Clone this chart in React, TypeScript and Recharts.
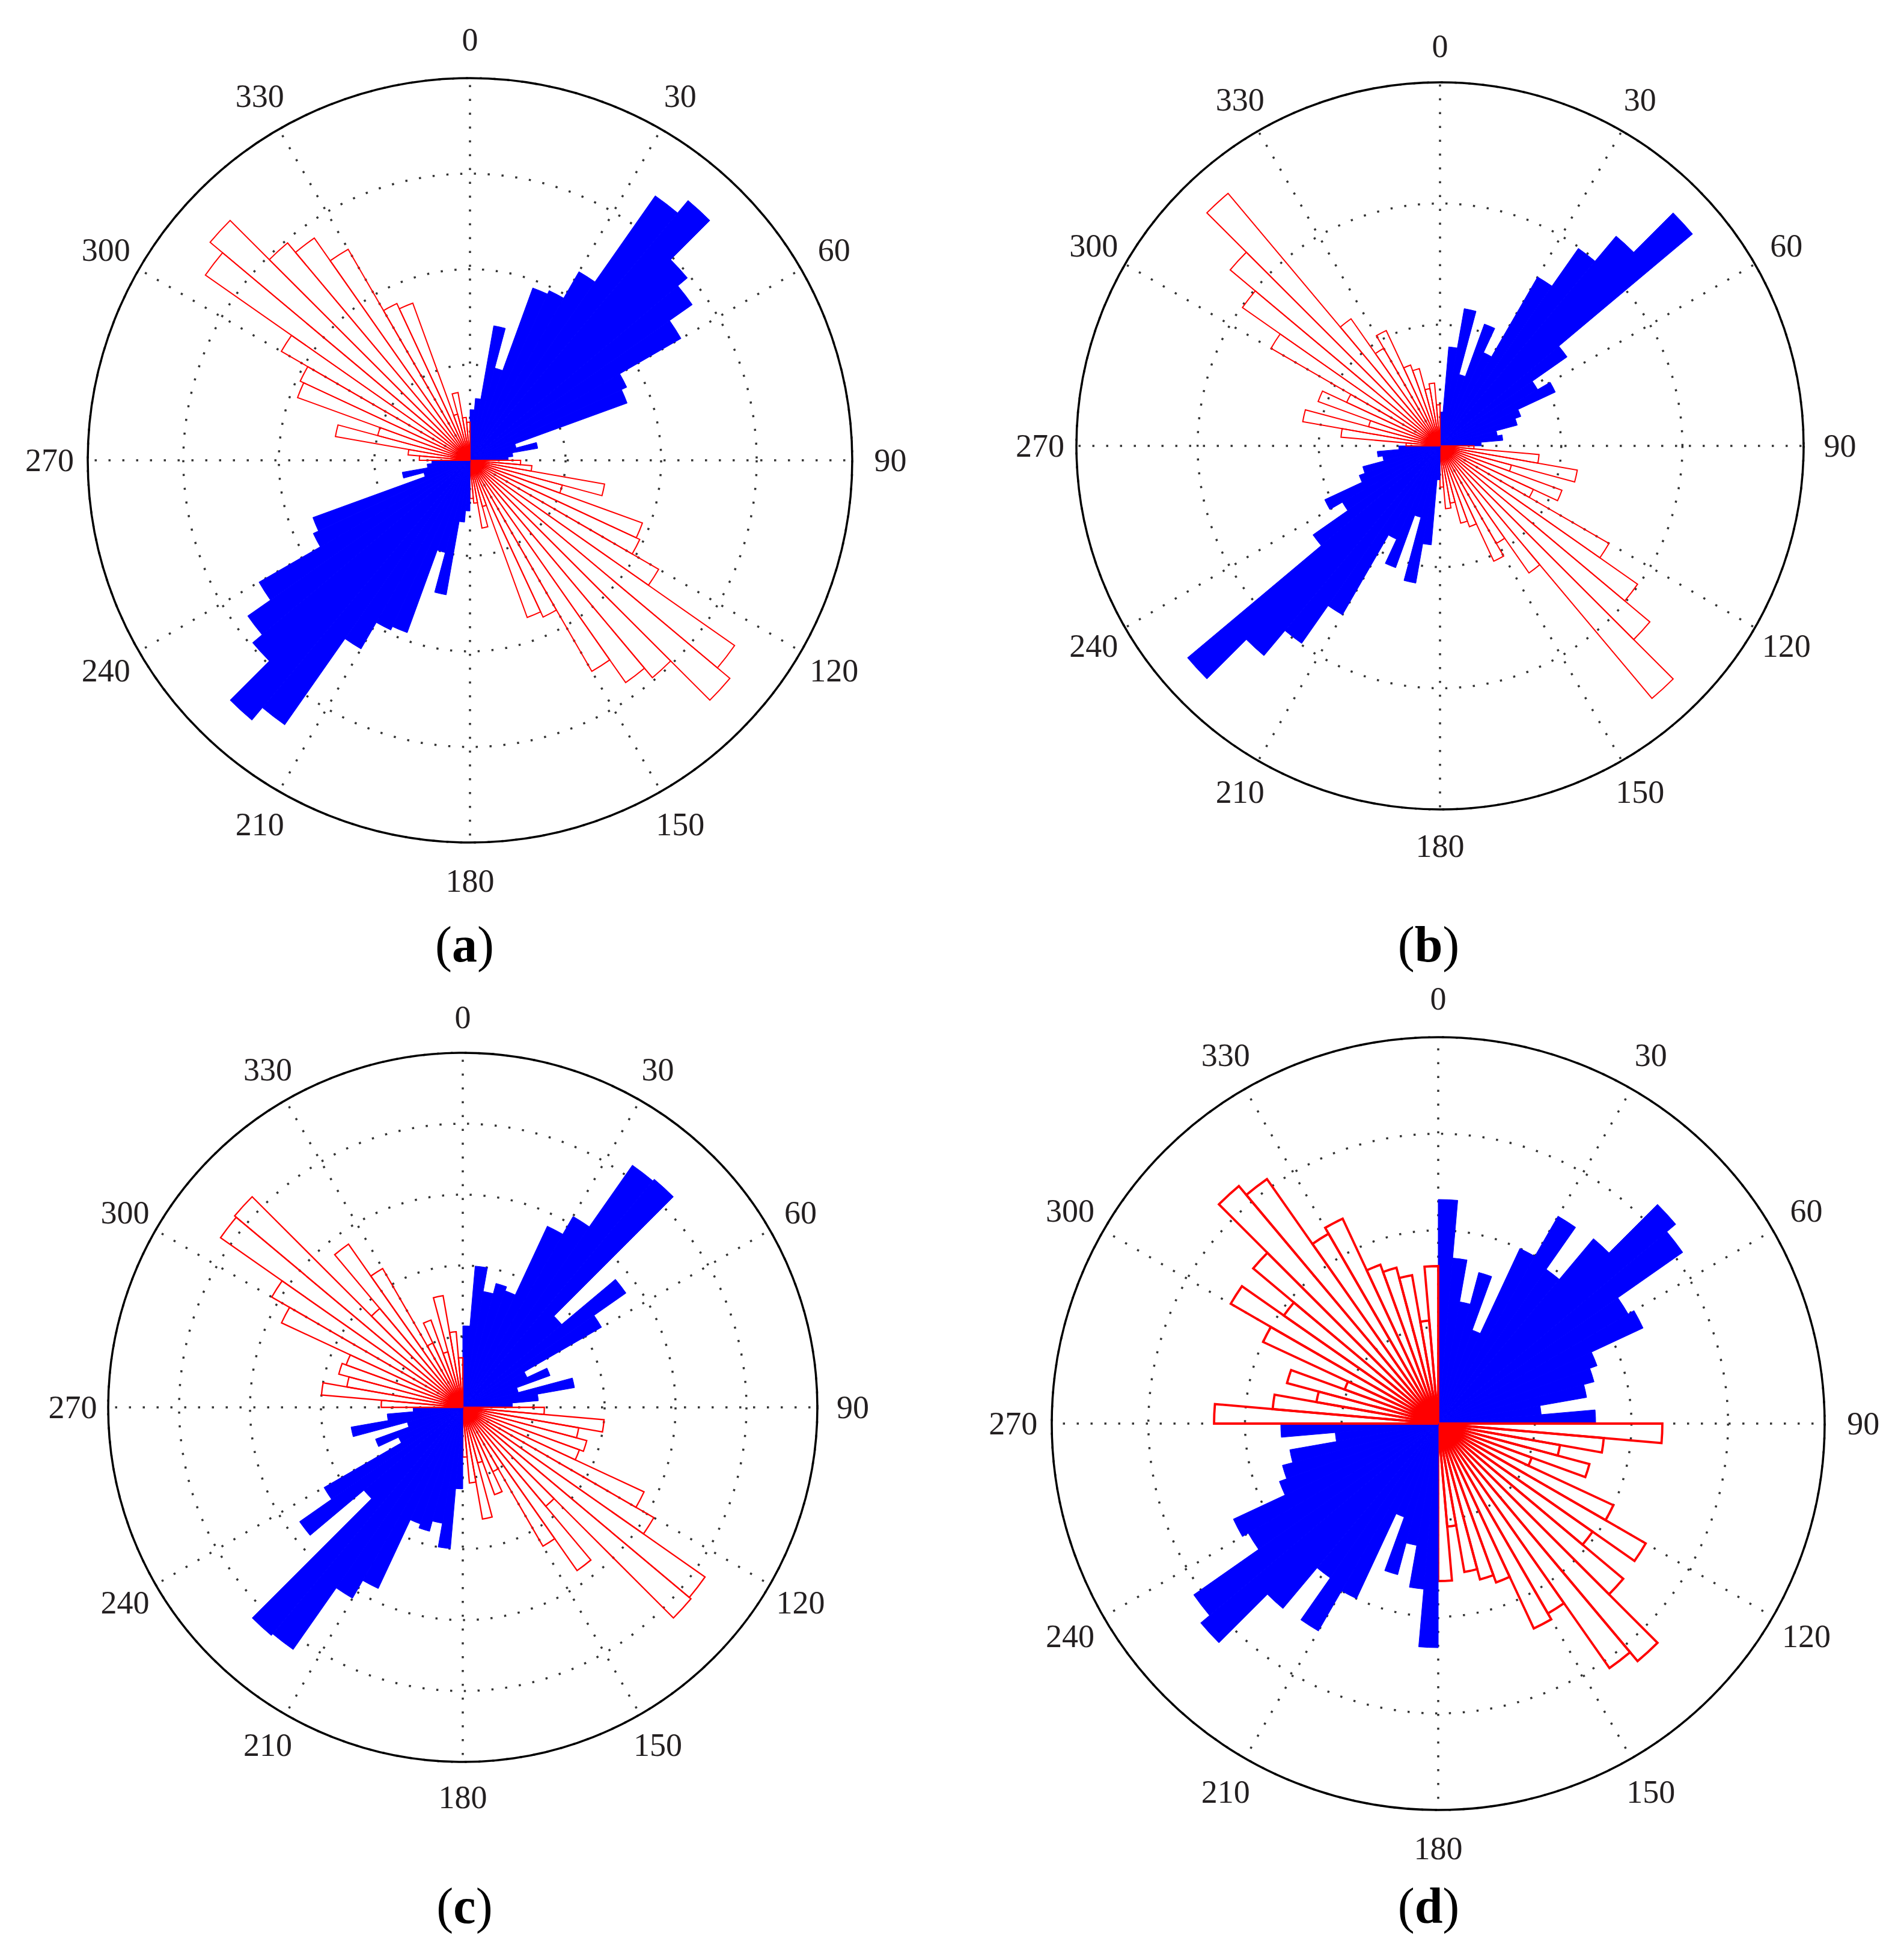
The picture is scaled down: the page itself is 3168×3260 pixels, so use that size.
import React from 'react';
import {
  RadialBarChart,
  RadialBar,
  RadarChart,
  Radar,
  PolarAngleAxis,
  PolarRadiusAxis,
  PolarGrid,
  Cell,
} from 'recharts';

// 5-degree bins, compass degrees (start of bin)
const binLabels = [
  '0', '5', '10', '15', '20', '25', '30', '35', '40', '45', '50', '55', '60', '65', '70', '75', '80', '85',
  '90', '95', '100', '105', '110', '115', '120', '125', '130', '135', '140', '145', '150', '155', '160', '165', '170', '175',
  '180', '185', '190', '195', '200', '205', '210', '215', '220', '225', '230', '235', '240', '245', '250', '255', '260', '265',
  '270', '275', '280', '285', '290', '295', '300', '305', '310', '315', '320', '325', '330', '335', '340', '345', '350', '355',
];

// quadrant frequencies (same values repeat in every quadrant, rotated)
const valuesA = [0.53, 0.65, 1.43, 1.0, 1.92, 1.96, 2.28, 3.38, 3.55, 2.97, 2.84, 2.55, 1.81, 1.75, 0.5, 0.72, 0.45, 0.4];
const valuesB = [0.28, 0.82, 1.15, 0.61, 1.07, 0.85, 1.61, 1.99, 2.26, 2.72, 1.28, 0.93, 1.05, 0.71, 0.66, 0.48, 0.52, 0.34];
const valuesC = [1.15, 2.0, 1.66, 1.81, 1.75, 2.82, 3.11, 4.17, 4.2, 1.82, 2.81, 2.26, 1.0, 1.31, 0.81, 1.6, 1.07, 0.7];
const valuesD = [2.32, 1.72, 1.28, 1.62, 1.03, 2.0, 2.48, 1.95, 2.5, 3.21, 3.09, 2.27, 2.34, 1.75, 1.67, 1.56, 1.07, 1.63];

const ringsA = [0, 1, 2, 3, 4];
const ringsB = [0, 1, 2, 3];
const ringsC = [0, 1, 2, 3, 4, 5];
const ringsD = [0, 1, 2, 3, 4];

const angleTickLabels = ['0', '30', '60', '90', '120', '150', '180', '210', '240', '270', '300', '330'];

const BLUE = '#0000ff';
const RED = '#ff0000';
const TEXT = '#231f20';

type RoseProps = {
  values: number[];
  rings: number[];
  left: number;
  top: number;
  width: number;
  height: number;
  cx: number;
  cy: number;
  R: number;
  redWidth: number;
};

function buildRows(values: number[]) {
  return binLabels.map((bin, i) => ({
    bin,
    v: values[i % values.length],
    kind: Math.floor(i / values.length) % 2 === 0 ? 'blue' : 'red',
  }));
}

const axisRows = angleTickLabels.map((deg) => ({ deg, base: 0 }));

const AngleTick = (props: any) => {
  const { x, y, payload } = props;
  return (
    <text
      x={x}
      y={y}
      textAnchor="middle"
      dominantBaseline="central"
      fontFamily="'Liberation Serif', 'Times New Roman', serif"
      fontSize={54}
      fill={TEXT}
    >
      {payload.value}
    </text>
  );
};

function Rose({ values, rings, left, top, width, height, cx, cy, R, redWidth }: RoseProps) {
  const rows = buildRows(values);
  const maxR = rings[rings.length - 1];
  const noMargin = { top: 0, right: 0, bottom: 0, left: 0 };
  return (
    <div style={{ position: 'absolute', left, top, width, height }}>
      {/* grid, outer circle and direction labels */}
      <div style={{ position: 'absolute', left: 0, top: 0 }}>
        <RadarChart
          width={width}
          height={height}
          data={axisRows}
          cx={cx}
          cy={cy}
          innerRadius={0}
          outerRadius={R}
          startAngle={90}
          endAngle={-270}
          margin={noMargin}
        >
          <PolarGrid
            gridType="circle"
            stroke="#333"
            strokeWidth={3.5}
            strokeDasharray="3.5 19.5"
          />
          <PolarAngleAxis
            dataKey="deg"
            type="category"
            tick={AngleTick}
            tickLine={false}
            tickSize={0.1 * R}
            axisLineType="circle"
            axisLine={{ stroke: '#000', strokeWidth: 3.5 }}
          />
          <PolarRadiusAxis
            type="number"
            domain={[0, maxR]}
            ticks={rings}
            tick={false}
            axisLine={false}
          />
          <Radar
            dataKey="base"
            stroke="none"
            fill="none"
            dot={false}
            isAnimationActive={false}
          />
        </RadarChart>
      </div>
      {/* rose bars */}
      <div style={{ position: 'absolute', left: 0, top: 0 }}>
        <RadialBarChart
          width={width}
          height={height}
          data={rows}
          layout="centric"
          cx={cx}
          cy={cy}
          innerRadius={0}
          outerRadius={R}
          startAngle={85}
          endAngle={-275}
          barCategoryGap={0}
          barGap={0}
          margin={noMargin}
        >
          <PolarAngleAxis
            dataKey="bin"
            type="category"
            tick={false}
            tickLine={false}
            axisLine={false}
          />
          <PolarRadiusAxis
            type="number"
            domain={[0, maxR]}
            ticks={rings}
            tick={false}
            axisLine={false}
          />
          <RadialBar dataKey="v" isAnimationActive={false}>
            {rows.map((row, i) => (
              <Cell
                key={i}
                fill={row.kind === 'blue' ? BLUE : 'none'}
                stroke={row.kind === 'blue' ? BLUE : RED}
                strokeWidth={row.kind === 'blue' ? 1 : redWidth}
              />
            ))}
          </RadialBar>
        </RadialBarChart>
      </div>
    </div>
  );
}

const panelLabels = ['a', 'b', 'c', 'd'];

export default function App() {
  return (
    <div
      style={{
        position: 'absolute',
        left: 0,
        top: 0,
        width: 3168,
        height: 3260,
        background: '#fff',
        overflow: 'hidden',
      }}
    >
      <Rose values={valuesA} rings={ringsA} left={0} top={0} width={1584} height={1630} cx={782} cy={766} R={636} redWidth={2} />
      <Rose values={valuesB} rings={ringsB} left={1584} top={0} width={1584} height={1630} cx={812} cy={742} R={605} redWidth={2} />
      <Rose values={valuesC} rings={ringsC} left={0} top={1630} width={1584} height={1630} cx={770} cy={712} R={590} redWidth={2.3} />
      <Rose values={valuesD} rings={ringsD} left={1584} top={1630} width={1584} height={1630} cx={809} cy={739} R={643} redWidth={3.8} />
      <svg
        width={3168}
        height={3260}
        style={{ position: 'absolute', left: 0, top: 0, pointerEvents: 'none' }}
      >
        {panelLabels.map((p, i) => {
          const x = i % 2 === 0 ? 773 : 2377;
          const y = i < 2 ? 1600 : 3200;
          return (
            <text
              key={p}
              x={x}
              y={y}
              textAnchor="middle"
              fontFamily="'Liberation Serif', 'Times New Roman', serif"
              fontSize={84}
              fill="#000"
            >
              (<tspan fontWeight="bold">{p}</tspan>)
            </text>
          );
        })}
      </svg>
    </div>
  );
}
